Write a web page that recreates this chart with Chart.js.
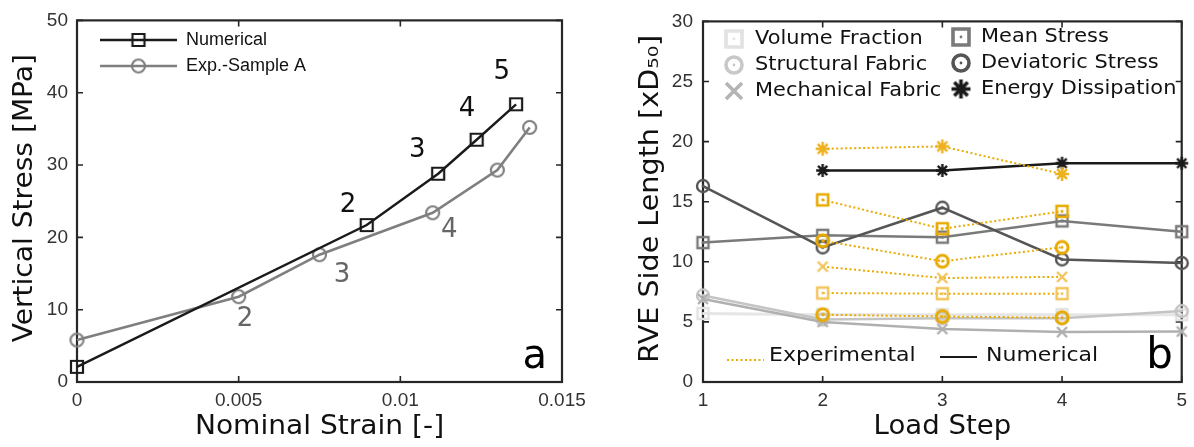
<!DOCTYPE html>
<html>
<head>
<meta charset="utf-8">
<script src="https://cdn.jsdelivr.net/npm/chart.js@4/dist/chart.umd.min.js"></script>
<style>
  html, body { margin: 0; padding: 0; background: #fff; }
  #wrap { position: relative; width: 1194px; height: 447px; }
  .panel { position: absolute; top: 0; height: 447px; }
  #pa { left: 0; width: 600px; }
  #pb { left: 600px; width: 594px; }
</style>
</head>
<body>
<div id="wrap">
  <div class="panel" id="pa"><canvas id="chart-a" width="600" height="447"></canvas></div>
  <div class="panel" id="pb"><canvas id="chart-b" width="594" height="447"></canvas></div>
</div>
<script>
// ---- panel a: stress-strain ----
const strainNum = [0, 0.00896, 0.01117, 0.01236, 0.01358];
const stressNum = [2.1, 21.7, 28.8, 33.5, 38.4];
const strainExp = [0, 0.005, 0.0075, 0.011, 0.0130, 0.0140];
const stressExp = [5.8, 11.8, 17.6, 23.4, 29.3, 35.2];
// load step labels next to the curves (data units)
const stepTagsNum = [
  { x: 0.00838, y: 24.5, text: '2' },
  { x: 0.01052, y: 32.0, text: '3' },
  { x: 0.01206, y: 37.7, text: '4' },
  { x: 0.01314, y: 42.8, text: '5' },
];
const stepTagsExp = [
  { x: 0.0052, y: 8.7, text: '2' },
  { x: 0.0082, y: 14.7, text: '3' },
  { x: 0.01151, y: 21.0, text: '4' },
];

// ---- panel b: RVE size per load step ----
const loadSteps = [1, 2, 3, 4, 5];
const expSteps = [2, 3, 4];
const numVolume     = [5.7, 5.6, 5.6, 5.6, 5.6];
const numStructural = [7.2, 5.2, 5.3, 5.3, 5.9];
const numMechanical = [6.9, 5.0, 4.4, 4.15, 4.2];
const numMean       = [11.6, 12.2, 12.05, 13.4, 12.5];
const numDeviatoric = [16.3, 11.2, 14.5, 10.2, 9.9];
const numEnergy     = [null, 17.6, 17.6, 18.2, 18.2];
const expVolume     = [7.4, 7.35, 7.35];
const expStructural = [5.6, 5.45, 5.35];
const expMechanical = [9.6, 8.65, 8.75];
const expMean       = [15.15, 12.75, 14.2];
const expDeviatoric = [11.75, 10.05, 11.2];
const expEnergy     = [19.4, 19.6, 17.3];

const TICK_FONT = { family: "'Liberation Sans', Arial, sans-serif", size: 19 };
const DV = "'DejaVu Sans', Verdana, sans-serif";
const INK = '#1a1a1a';
const ORANGE = '#E8AA00';
const ORANGE_LT = '#F2C45C';

// marker glyphs as small canvases so lines and legends share them
function marker(shape, color, size, lw, dot) {
  const pad = Math.ceil(lw) + 2;
  const c = document.createElement('canvas');
  c.width = c.height = size + pad * 2;
  const g = c.getContext('2d');
  const m = c.width / 2, h = size / 2;
  g.strokeStyle = color;
  g.fillStyle = color;
  g.lineWidth = lw;
  g.beginPath();
  if (shape === 'square') {
    g.rect(m - h, m - h, size, size);
  } else if (shape === 'circle') {
    g.arc(m, m, h, 0, Math.PI * 2);
  } else if (shape === 'x') {
    g.moveTo(m - h, m - h); g.lineTo(m + h, m + h);
    g.moveTo(m + h, m - h); g.lineTo(m - h, m + h);
  } else if (shape === 'star') {
    for (let k = 0; k < 4; k++) {
      const a = k * Math.PI / 4;
      g.moveTo(m - h * Math.cos(a), m - h * Math.sin(a));
      g.lineTo(m + h * Math.cos(a), m + h * Math.sin(a));
    }
  }
  g.stroke();
  if (dot) {
    g.beginPath();
    g.arc(m, m, 1.4, 0, Math.PI * 2);
    g.fill();
  }
  return c;
}

const pts = (xs, ys) => xs.map((x, i) => ({ x, y: ys[i] })).filter(p => p.y != null);

// text helper; sx widens the glyphs along the writing direction
function text(ctx, str, x, y, font, color, align = 'left', baseline = 'middle', sx = 1, rot = 0) {
  ctx.save();
  ctx.translate(x, y);
  if (rot) ctx.rotate(rot);
  ctx.scale(sx, 1);
  ctx.font = font;
  ctx.fillStyle = color;
  ctx.textAlign = align;
  ctx.textBaseline = baseline;
  ctx.fillText(str, 0, 0);
  ctx.restore();
}

// MATLAB-style box with inward ticks on all four sides
const boxAxes = {
  id: 'boxAxes',
  beforeDatasetsDraw(chart) {
    const { ctx, chartArea: a, scales: { x, y } } = chart;
    const len = 6;
    ctx.save();
    ctx.strokeStyle = '#262626';
    ctx.lineWidth = 1.6;
    ctx.beginPath();
    x.ticks.forEach(t => {
      const px = x.getPixelForValue(t.value);
      ctx.moveTo(px, a.bottom); ctx.lineTo(px, a.bottom - len);
      ctx.moveTo(px, a.top); ctx.lineTo(px, a.top + len);
    });
    y.ticks.forEach(t => {
      const py = y.getPixelForValue(t.value);
      ctx.moveTo(a.left, py); ctx.lineTo(a.left + len, py);
      ctx.moveTo(a.right, py); ctx.lineTo(a.right - len, py);
    });
    ctx.stroke();
    ctx.lineWidth = 2.2;
    ctx.strokeRect(a.left, a.top, a.right - a.left, a.bottom - a.top);
    ctx.restore();
  },
};

function baseScales(xOpt, yOpt) {
  const common = {
    type: 'linear',
    grid: { display: false, drawTicks: false },
    border: { display: false },
  };
  return {
    x: Object.assign({}, common, xOpt),
    y: Object.assign({}, common, yOpt),
  };
}

// axis titles, drawn by hand so they can be widened a little
function axisTitles(ctx, area, xTitle, yTitle, yTitleX, sxX, sxY) {
  const f = '26px ' + DV;
  text(ctx, xTitle, (area.left + area.right) / 2, 427, f, '#111', 'center', 'middle', sxX);
  text(ctx, yTitle, yTitleX, (area.top + area.bottom) / 2 - 3, f, '#111', 'center', 'middle', sxY, -Math.PI / 2);
}

// ---- chart a ----
const sqNum = marker('square', INK, 12, 2.2, false);
const ciExp = marker('circle', '#7f7f7f', 13, 2.2, false);

const annotA = {
  id: 'annotA',
  afterDraw(chart) {
    const { ctx, chartArea, scales: { x, y } } = chart;
    axisTitles(ctx, chartArea, 'Nominal Strain [-]', 'Vertical Stress [MPa]', 25, 1.08, 1.08);
    const f = '26px ' + DV;
    stepTagsNum.forEach(t => text(ctx, t.text, x.getPixelForValue(t.x), y.getPixelForValue(t.y), f, '#111', 'center'));
    stepTagsExp.forEach(t => text(ctx, t.text, x.getPixelForValue(t.x), y.getPixelForValue(t.y), f, '#666', 'center'));
    // panel letter
    text(ctx, 'a', 547, 368, '40px ' + DV, '#000', 'right', 'alphabetic');
    // legend
    const lf = "18px 'Liberation Sans', Arial, sans-serif";
    const rows = [
      { label: 'Numerical', color: INK, img: sqNum, y: 40 },
      { label: 'Exp.-Sample A', color: '#7f7f7f', img: ciExp, y: 66 },
    ];
    rows.forEach(r => {
      ctx.save();
      ctx.strokeStyle = r.color;
      ctx.lineWidth = 2.4;
      ctx.beginPath();
      ctx.moveTo(100, r.y); ctx.lineTo(177, r.y);
      ctx.stroke();
      ctx.drawImage(r.img, 138.5 - r.img.width / 2, r.y - r.img.height / 2);
      ctx.restore();
      text(ctx, r.label, 186, r.y, lf, '#111');
    });
  },
};

new Chart(document.getElementById('chart-a'), {
  type: 'line',
  data: {
    datasets: [
      {
        label: 'Numerical',
        data: pts(strainNum, stressNum),
        borderColor: INK,
        borderWidth: 2.4,
        pointStyle: sqNum,
        pointRadius: 6,
        clip: false,
      },
      {
        label: 'Exp.-Sample A',
        data: pts(strainExp, stressExp),
        borderColor: '#7f7f7f',
        borderWidth: 2.6,
        pointStyle: ciExp,
        pointRadius: 6,
        clip: false,
      },
    ],
  },
  options: {
    responsive: false,
    animation: false,
    layout: { padding: { top: 15, right: 38, left: 0, bottom: 0 } },
    plugins: { legend: { display: false }, tooltip: { enabled: false } },
    scales: baseScales(
      {
        min: 0, max: 0.015,
        ticks: { stepSize: 0.005, font: TICK_FONT, color: '#333', padding: 7, maxRotation: 0,
                 callback: v => String(+v.toFixed(3)) },
        afterFit: s => { s.height = 65; },
      },
      {
        min: 0, max: 50,
        ticks: { stepSize: 10, font: TICK_FONT, color: '#333', padding: 9 },
        afterFit: s => { s.width = 77; },
      }
    ),
  },
  plugins: [boxAxes, annotA],
});

// ---- chart b ----
const mk = {
  numVolume:     marker('square', '#e2e2e2', 11, 2.4, true),
  numStructural: marker('circle', '#c4c4c4', 12, 2.4, true),
  numMechanical: marker('x', '#b0b0b0', 10, 2.4, false),
  numMean:       marker('square', '#7a7a7a', 11, 2.4, true),
  numDeviatoric: marker('circle', '#555', 12, 2.4, true),
  numEnergy:     marker('star', INK, 13, 2.4, false),
  expVolume:     marker('square', ORANGE_LT, 11, 2.4, true),
  expStructural: marker('circle', ORANGE, 12, 3, true),
  expMechanical: marker('x', ORANGE_LT, 10, 2.4, false),
  expMean:       marker('square', ORANGE, 11, 2.6, true),
  expDeviatoric: marker('circle', ORANGE, 12, 3, true),
  expEnergy:     marker('star', '#EDB120', 14, 2.4, false),
};

const expLine = (data, img) => ({
  data: pts(expSteps, data),
  borderColor: ORANGE,
  borderWidth: 2,
  borderDash: [2, 2.5],
  pointStyle: img,
  pointRadius: 6,
  clip: false,
});
const numLine = (data, color, img, w = 2.5) => ({
  data: pts(loadSteps, data),
  borderColor: color,
  borderWidth: w,
  pointStyle: img,
  pointRadius: 6,
  clip: false,
});

const legendB = {
  id: 'legendB',
  afterDraw(chart) {
    const { ctx, chartArea } = chart;
    axisTitles(ctx, chartArea, 'Load Step', 'RVE Side Length [xD₅₀]', 51, 1.06, 1.1);
    const lf = '19px ' + DV;
    const big = (shape, color) => marker(shape, color, 16, 3.6, shape === 'square' || shape === 'circle');
    const cols = [
      { mx: 134, tx: 155, rows: [
        ['Volume Fraction', big('square', '#e2e2e2'), 39],
        ['Structural Fabric', big('circle', '#c8c8c8'), 65],
        ['Mechanical Fabric', big('x', '#b4b4b4'), 91],
      ] },
      { mx: 361, tx: 381, rows: [
        ['Mean Stress', big('square', '#7a7a7a'), 37],
        ['Deviatoric Stress', big('circle', '#555'), 63],
        ['Energy Dissipation', marker('star', INK, 19, 3.6, false), 89],
      ] },
    ];
    cols.forEach(c => c.rows.forEach(([label, img, y]) => {
      ctx.drawImage(img, c.mx - img.width / 2, y - img.height / 2);
      text(ctx, label, c.tx, y, lf, '#111', 'left', 'middle', 1.1);
    }));
    // line-style key
    ctx.save();
    ctx.strokeStyle = ORANGE;
    ctx.lineWidth = 2;
    ctx.setLineDash([2, 2.5]);
    ctx.beginPath(); ctx.moveTo(127, 360); ctx.lineTo(164, 360); ctx.stroke();
    ctx.setLineDash([]);
    ctx.strokeStyle = INK;
    ctx.beginPath(); ctx.moveTo(340, 357); ctx.lineTo(377, 357); ctx.stroke();
    ctx.restore();
    text(ctx, 'Experimental', 169, 356, '20px ' + DV, '#111', 'left', 'middle', 1.1);
    text(ctx, 'Numerical', 386, 356, '20px ' + DV, '#111', 'left', 'middle', 1.1);
    // panel letter
    text(ctx, 'b', 573, 368, '42px ' + DV, '#000', 'right', 'alphabetic');
  },
};

new Chart(document.getElementById('chart-b'), {
  type: 'line',
  data: {
    datasets: [
      expLine(expEnergy, mk.expEnergy),
      expLine(expMean, mk.expMean),
      expLine(expDeviatoric, mk.expDeviatoric),
      expLine(expStructural, mk.expStructural),
      expLine(expMechanical, mk.expMechanical),
      expLine(expVolume, mk.expVolume),
      numLine(numEnergy, INK, mk.numEnergy),
      numLine(numDeviatoric, '#555', mk.numDeviatoric),
      numLine(numMean, '#7a7a7a', mk.numMean),
      numLine(numMechanical, '#b0b0b0', mk.numMechanical),
      numLine(numStructural, '#c4c4c4', mk.numStructural),
      numLine(numVolume, '#e6e6e6', mk.numVolume, 3),
    ],
  },
  options: {
    responsive: false,
    animation: false,
    layout: { padding: { top: 15, right: 9, left: 0, bottom: 0 } },
    plugins: { legend: { display: false }, tooltip: { enabled: false } },
    scales: baseScales(
      {
        min: 1, max: 5,
        ticks: { stepSize: 1, font: TICK_FONT, color: '#333', padding: 7, maxRotation: 0 },
        afterFit: s => { s.height = 65; },
      },
      {
        min: 0, max: 30,
        ticks: { stepSize: 5, font: TICK_FONT, color: '#333', padding: 10 },
        afterFit: s => { s.width = 103; },
      }
    ),
  },
  plugins: [boxAxes, legendB],
});
</script>
</body>
</html>
